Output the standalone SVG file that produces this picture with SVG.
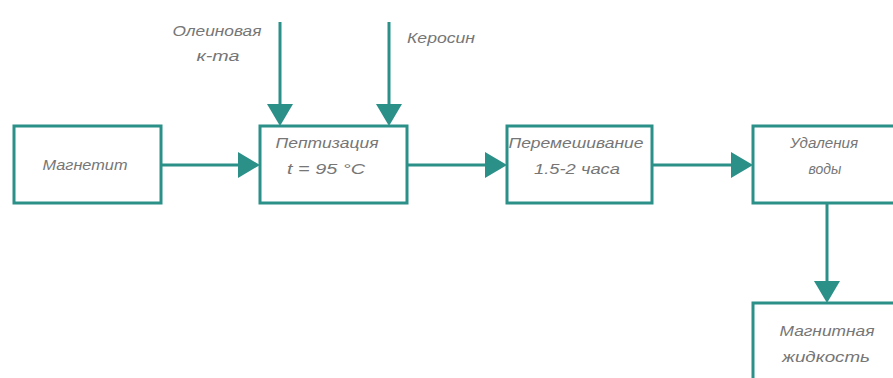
<svg xmlns="http://www.w3.org/2000/svg" width="893" height="378" viewBox="0 0 893 378">
<defs>
<style>
.box{fill:#fff;stroke:#2a9088;stroke-width:3}
.ln{stroke:#2a9088;stroke-width:3;fill:none}
.ah{fill:#2a9088}
.t{font-family:"Liberation Sans",Arial,sans-serif;font-style:italic;font-size:14px;fill:#767676;text-anchor:middle}
</style>
</defs>
<rect width="893" height="378" fill="#fff"/>
<g id="connectors">
<line class="ln" x1="280" y1="22" x2="280" y2="108"/>
<polygon class="ah" points="267,104 293,104 280,126"/>
<line class="ln" x1="389" y1="22" x2="389" y2="108"/>
<polygon class="ah" points="376,104 402,104 389,126"/>
<line class="ln" x1="161" y1="165" x2="242" y2="165"/>
<polygon class="ah" points="238,152 238,178 260,165"/>
<line class="ln" x1="407" y1="165" x2="489" y2="165"/>
<polygon class="ah" points="485,152 485,178 507,165"/>
<line class="ln" x1="652" y1="165" x2="735" y2="165"/>
<polygon class="ah" points="731,152 731,178 753,165"/>
<line class="ln" x1="827" y1="203" x2="827" y2="285"/>
<polygon class="ah" points="814,281 840,281 827,303"/>
</g>
<g id="label-oleic">
<text class="t" x="217" y="36" textLength="89" lengthAdjust="spacingAndGlyphs">Олеиновая</text>
<text class="t" x="218" y="61" textLength="43" lengthAdjust="spacingAndGlyphs">к-та</text>
</g>
<g id="label-kerosene">
<text class="t" x="441" y="43" textLength="68" lengthAdjust="spacingAndGlyphs">Керосин</text>
</g>
<g id="node-magnetite">
<rect class="box" x="14" y="126" width="147" height="77"/>
<text class="t" x="85" y="170" textLength="85" lengthAdjust="spacingAndGlyphs">Магнетит</text>
</g>
<g id="node-peptization">
<rect class="box" x="260" y="126" width="147" height="77"/>
<text class="t" x="327" y="148" textLength="103" lengthAdjust="spacingAndGlyphs">Пептизация</text>
<text class="t" x="326" y="174" textLength="78" lengthAdjust="spacingAndGlyphs">t = 95 °C</text>
</g>
<g id="node-mixing">
<rect class="box" x="507" y="126" width="145" height="77"/>
<text class="t" x="576" y="148" textLength="135" lengthAdjust="spacingAndGlyphs">Перемешивание</text>
<text class="t" x="577" y="174" textLength="86" lengthAdjust="spacingAndGlyphs">1.5-2 часа</text>
</g>
<g id="node-water">
<rect class="box" x="753" y="126" width="150" height="77"/>
<text class="t" x="824" y="148" textLength="68" lengthAdjust="spacingAndGlyphs">Удаления</text>
<text class="t" x="825" y="174">воды</text>
</g>
<g id="node-fluid">
<rect class="box" x="753" y="303" width="150" height="90"/>
<text class="t" x="827" y="336" textLength="95" lengthAdjust="spacingAndGlyphs">Магнитная</text>
<text class="t" x="826" y="362" textLength="88" lengthAdjust="spacingAndGlyphs">жидкость</text>
</g>
</svg>
